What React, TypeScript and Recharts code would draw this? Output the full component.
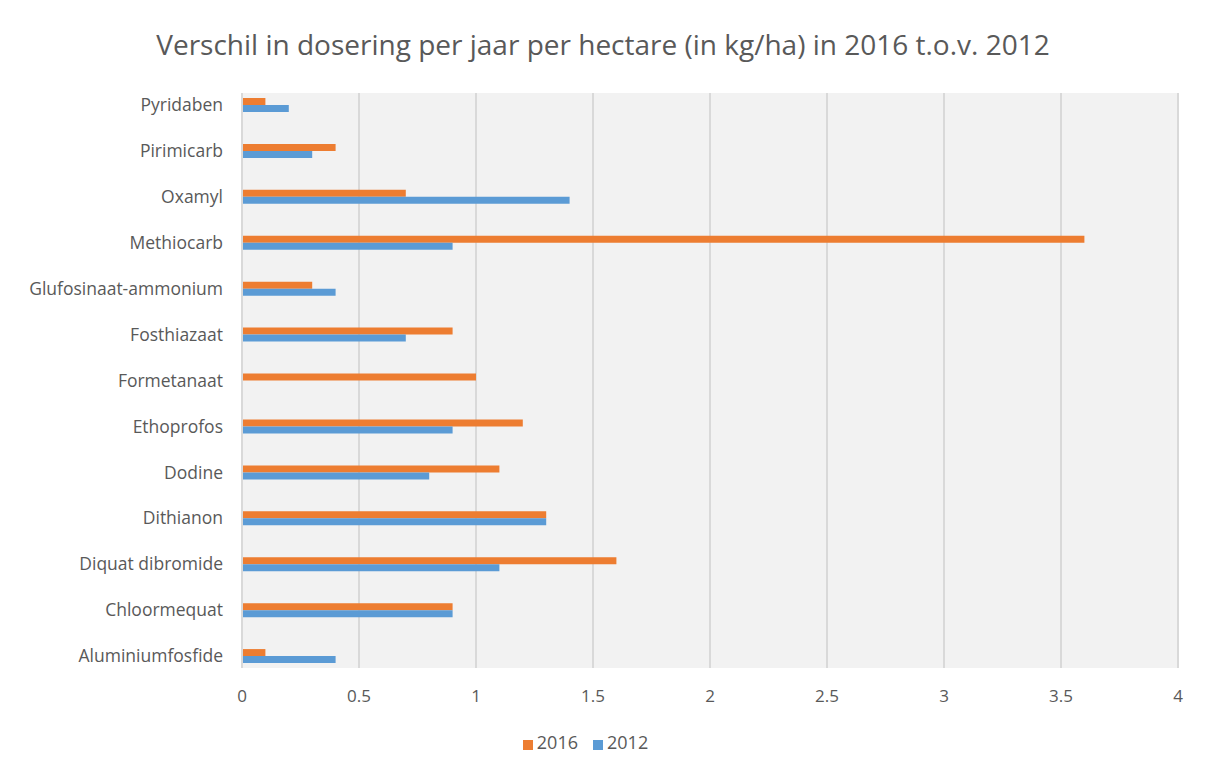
import { Bar, BarChart, CartesianGrid, Legend, XAxis, YAxis } from "recharts";

const stoffen = [
  "Pyridaben",
  "Pirimicarb",
  "Oxamyl",
  "Methiocarb",
  "Glufosinaat-ammonium",
  "Fosthiazaat",
  "Formetanaat",
  "Ethoprofos",
  "Dodine",
  "Dithianon",
  "Diquat dibromide",
  "Chloormequat",
  "Aluminiumfosfide",
];
const dosering2016 = [0.1, 0.4, 0.7, 3.6, 0.3, 0.9, 1.0, 1.2, 1.1, 1.3, 1.6, 0.9, 0.1];
const dosering2012 = [0.2, 0.3, 1.4, 0.9, 0.4, 0.7, 0, 0.9, 0.8, 1.3, 1.1, 0.9, 0.4];
const xTicks = [0, 0.5, 1, 1.5, 2, 2.5, 3, 3.5, 4];
const seriesOrder = ["2016", "2012"];

const data = stoffen.map((naam, i) => ({
  naam,
  j2016: dosering2016[i],
  j2012: dosering2012[i],
}));

const font = "'Open Sans', 'Segoe UI', sans-serif";
const grey = "#595959";

export default function App() {
  return (
    <div
      style={{
        position: "relative",
        width: 1192,
        height: 758,
        margin: -1,
        border: "1px solid #d9d9d9",
        boxSizing: "border-box",
        fontFamily: font,
        background: "#fff",
      }}
    >
      <div
        style={{
          position: "absolute",
          top: 17,
          left: 0,
          width: "100%",
          textAlign: "center",
          fontSize: 28,
          color: grey,
        }}
      >
        Verschil in dosering per jaar per hectare (in kg/ha) in 2016 t.o.v. 2012
      </div>
      <BarChart
        width={1190}
        height={756}
        data={data}
        layout="vertical"
        margin={{ top: 85, right: 20, bottom: 10, left: 0 }}
        barGap={0}
        barSize={7}
      >
        <CartesianGrid
          horizontal={false}
          fill="#f2f2f2"
          stroke="#d9d9d9"
          strokeWidth={2}
        />
        <XAxis
          type="number"
          domain={[0, 4]}
          ticks={xTicks}
          axisLine={false}
          tickLine={false}
          tickSize={0}
          tickMargin={22}
          height={62}
          tick={{ fill: grey, fontSize: 17, fontFamily: font }}
        />
        <YAxis
          type="category"
          dataKey="naam"
          width={234}
          axisLine={{ stroke: "#d9d9d9", strokeWidth: 2 }}
          tickLine={false}
          tickSize={0}
          tickMargin={19}
          padding={{ top: -11, bottom: -11 }}
          interval={0}
          tick={{ fill: grey, fontSize: 17.5, fontFamily: font }}
        />
        <Legend
          verticalAlign="bottom"
          iconType="square"
          iconSize={10}
          itemSorter={(item: any) => seriesOrder.indexOf(String(item.value))}
          formatter={(value) => (
            <span style={{ color: grey, fontSize: 18, marginRight: 5 }}>{value}</span>
          )}
        />
        <Bar dataKey="j2016" name="2016" fill="#ED7D31" isAnimationActive={false} />
        <Bar dataKey="j2012" name="2012" fill="#5B9BD5" isAnimationActive={false} />
      </BarChart>
    </div>
  );
}
